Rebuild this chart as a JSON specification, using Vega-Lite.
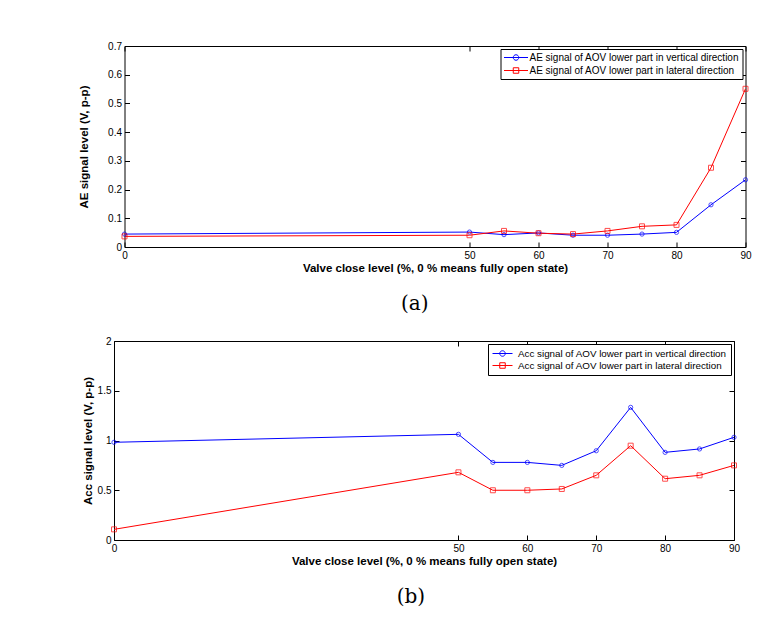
{
  "$schema": "https://vega.github.io/schema/vega-lite/v6.json",
  "padding": {"left": 78, "top": 40, "right": 0, "bottom": 0},
  "background": "white",
  "config": {
    "view": {"stroke": "black", "strokeWidth": 1},
    "font": "Liberation Sans",
    "axis": {
      "domain": false, "grid": false, "ticks": true, "tickColor": "black", "tickSize": -5, "tickWidth": 1,
      "labelPadding": 8, "labelFont": "Liberation Sans", "labelFontSize": 10, "labelColor": "black",
      "labelFlush": false, "labelOverlap": false,
      "titleFont": "Liberation Sans", "titleFontWeight": "bold", "titleFontSize": 11.5, "titleColor": "black"
    }
  },
  "datasets": {
    "ae": [
      {"level": 0, "series": "AE signal of AOV lower part in vertical direction", "value": 0.045},
      {"level": 50, "series": "AE signal of AOV lower part in vertical direction", "value": 0.052},
      {"level": 55, "series": "AE signal of AOV lower part in vertical direction", "value": 0.043},
      {"level": 60, "series": "AE signal of AOV lower part in vertical direction", "value": 0.049},
      {"level": 65, "series": "AE signal of AOV lower part in vertical direction", "value": 0.041},
      {"level": 70, "series": "AE signal of AOV lower part in vertical direction", "value": 0.041},
      {"level": 75, "series": "AE signal of AOV lower part in vertical direction", "value": 0.045},
      {"level": 80, "series": "AE signal of AOV lower part in vertical direction", "value": 0.051},
      {"level": 85, "series": "AE signal of AOV lower part in vertical direction", "value": 0.147},
      {"level": 90, "series": "AE signal of AOV lower part in vertical direction", "value": 0.234},
      {"level": 0, "series": "AE signal of AOV lower part in lateral direction", "value": 0.037},
      {"level": 50, "series": "AE signal of AOV lower part in lateral direction", "value": 0.041},
      {"level": 55, "series": "AE signal of AOV lower part in lateral direction", "value": 0.056},
      {"level": 60, "series": "AE signal of AOV lower part in lateral direction", "value": 0.048},
      {"level": 65, "series": "AE signal of AOV lower part in lateral direction", "value": 0.045},
      {"level": 70, "series": "AE signal of AOV lower part in lateral direction", "value": 0.056},
      {"level": 75, "series": "AE signal of AOV lower part in lateral direction", "value": 0.072},
      {"level": 80, "series": "AE signal of AOV lower part in lateral direction", "value": 0.077},
      {"level": 85, "series": "AE signal of AOV lower part in lateral direction", "value": 0.276},
      {"level": 90, "series": "AE signal of AOV lower part in lateral direction", "value": 0.551}
    ],
    "acc": [
      {"level": 0, "series": "Acc signal of AOV lower part in vertical direction", "value": 0.982},
      {"level": 50, "series": "Acc signal of AOV lower part in vertical direction", "value": 1.062},
      {"level": 55, "series": "Acc signal of AOV lower part in vertical direction", "value": 0.78},
      {"level": 60, "series": "Acc signal of AOV lower part in vertical direction", "value": 0.78},
      {"level": 65, "series": "Acc signal of AOV lower part in vertical direction", "value": 0.75},
      {"level": 70, "series": "Acc signal of AOV lower part in vertical direction", "value": 0.897},
      {"level": 75, "series": "Acc signal of AOV lower part in vertical direction", "value": 1.333},
      {"level": 80, "series": "Acc signal of AOV lower part in vertical direction", "value": 0.881},
      {"level": 85, "series": "Acc signal of AOV lower part in vertical direction", "value": 0.915},
      {"level": 90, "series": "Acc signal of AOV lower part in vertical direction", "value": 1.032},
      {"level": 0, "series": "Acc signal of AOV lower part in lateral direction", "value": 0.107},
      {"level": 50, "series": "Acc signal of AOV lower part in lateral direction", "value": 0.68},
      {"level": 55, "series": "Acc signal of AOV lower part in lateral direction", "value": 0.5},
      {"level": 60, "series": "Acc signal of AOV lower part in lateral direction", "value": 0.5},
      {"level": 65, "series": "Acc signal of AOV lower part in lateral direction", "value": 0.513},
      {"level": 70, "series": "Acc signal of AOV lower part in lateral direction", "value": 0.65},
      {"level": 75, "series": "Acc signal of AOV lower part in lateral direction", "value": 0.948},
      {"level": 80, "series": "Acc signal of AOV lower part in lateral direction", "value": 0.616},
      {"level": 85, "series": "Acc signal of AOV lower part in lateral direction", "value": 0.65},
      {"level": 90, "series": "Acc signal of AOV lower part in lateral direction", "value": 0.75}
    ]
  },
  "columns": 1,
  "spacing": 21,
  "resolve": {"scale": {"color": "independent"}, "legend": {"color": "independent"}},
  "concat": [
    {
      "resolve": {"scale": {"color": "independent"}, "legend": {"color": "independent"}},
      "spacing": -37.5,
      "hconcat": [
        {
          "width": 1,
          "height": 1,
          "view": {"stroke": null, "fill": "white"},
          "data": {"values": []},
          "mark": "point"
        },
        {
          "width": 621,
          "height": 201,
          "data": {"name": "ae"},
          "title": {"text": "(a)", "orient": "bottom", "anchor": "middle", "frame": "bounds", "font": "DejaVu Serif", "fontSize": 20, "fontWeight": "normal", "offset": 20, "color": "black"},
          "resolve": {"axis": {"x": "independent", "y": "independent"}},
          "layer": [
            {
              "mark": {"type": "line", "strokeWidth": 1},
              "encoding": {
                "x": {"field": "level", "type": "quantitative", "scale": {"domain": [0, 90], "nice": false, "zero": false},
                      "axis": {"orient": "bottom", "values": [0, 50, 60, 70, 80, 90], "title": "Valve close level (%, 0 % means fully open state)", "titlePadding": 2}},
                "y": {"field": "value", "type": "quantitative", "scale": {"domain": [0, 0.7], "nice": false},
                      "axis": {"orient": "left", "values": [0, 0.1, 0.2, 0.3, 0.4, 0.5, 0.6, 0.7], "labelExpr": "'' + datum.value", "title": "AE signal level (V, p-p)", "titlePadding": 18}},
                "color": {"field": "series", "type": "nominal",
                          "scale": {"domain": ["AE signal of AOV lower part in vertical direction", "AE signal of AOV lower part in lateral direction"], "range": ["#0000ff", "#ff0000"]},
                          "legend": {"orient": "top-right", "offset": 3, "title": null, "strokeColor": "black", "fillColor": "white", "padding": 3,
                                     "labelFont": "Liberation Sans", "labelFontSize": 10, "labelColor": "black", "labelLimit": 400,
                                     "symbolSize": 100, "symbolStrokeWidth": 1, "labelOffset": 15, "rowPadding": 2,
                                     "encode": {"symbols": {"update": {
                                       "shape": {"signal": "datum.value == 'AE signal of AOV lower part in vertical direction' ? 'M-1,0H3.8M0.85,0A0.55,0.55 0 1,0 1.95,0A0.55,0.55 0 1,0 0.85,0' : 'M-1,0H3.8M0.85,-0.55H1.95V0.55H0.85Z'"},
                                       "fill": {"value": "transparent"}}}}}}
              }
            },
            {
              "transform": [{"filter": "datum.series == 'AE signal of AOV lower part in vertical direction'"}],
              "mark": {"type": "point", "shape": "circle", "filled": false, "size": 18, "strokeWidth": 1, "color": "#0000ff"},
              "encoding": {
                "x": {"field": "level", "type": "quantitative", "axis": {"orient": "top", "values": [0, 50, 60, 70, 80, 90], "labels": false, "title": null}},
                "y": {"field": "value", "type": "quantitative", "axis": {"orient": "right", "values": [0, 0.1, 0.2, 0.3, 0.4, 0.5, 0.6, 0.7], "labels": false, "title": null}}
              }
            },
            {
              "transform": [{"filter": "datum.series == 'AE signal of AOV lower part in lateral direction'"}],
              "mark": {"type": "point", "shape": "square", "filled": false, "size": 25, "strokeWidth": 1, "color": "#ff0000"},
              "encoding": {
                "x": {"field": "level", "type": "quantitative", "axis": null},
                "y": {"field": "value", "type": "quantitative", "axis": null}
              }
            }
          ]
        }
      ]
    },
    {
      "width": 620,
      "height": 199,
      "data": {"name": "acc"},
      "title": {"text": "(b)", "orient": "bottom", "anchor": "middle", "frame": "bounds", "font": "DejaVu Serif", "fontSize": 20, "fontWeight": "normal", "offset": 20, "color": "black"},
      "resolve": {"axis": {"x": "independent", "y": "independent"}},
      "layer": [
        {
          "mark": {"type": "line", "strokeWidth": 1},
          "encoding": {
            "x": {"field": "level", "type": "quantitative", "scale": {"domain": [0, 90], "nice": false, "zero": false},
                  "axis": {"orient": "bottom", "values": [0, 50, 60, 70, 80, 90], "title": "Valve close level (%, 0 % means fully open state)", "titlePadding": 2}},
            "y": {"field": "value", "type": "quantitative", "scale": {"domain": [0, 2], "nice": false},
                  "axis": {"orient": "left", "values": [0, 0.5, 1, 1.5, 2], "labelExpr": "'' + datum.value", "title": "Acc signal level (V, p-p)", "titlePadding": 4}},
            "color": {"field": "series", "type": "nominal",
                      "scale": {"domain": ["Acc signal of AOV lower part in vertical direction", "Acc signal of AOV lower part in lateral direction"], "range": ["#0000ff", "#ff0000"]},
                      "legend": {"orient": "top-right", "offset": 3, "title": null, "strokeColor": "black", "fillColor": "white", "padding": 4,
                                 "labelFont": "Liberation Sans", "labelFontSize": 9.8, "labelColor": "black", "labelLimit": 400,
                                 "symbolSize": 100, "symbolStrokeWidth": 1, "labelOffset": 15, "rowPadding": 1,
                                 "encode": {"symbols": {"update": {
                                   "shape": {"signal": "datum.value == 'Acc signal of AOV lower part in vertical direction' ? 'M-1,0H3M0.45,0A0.55,0.55 0 1,0 1.55,0A0.55,0.55 0 1,0 0.45,0' : 'M-1,0H3M0.45,-0.55H1.55V0.55H0.45Z'"},
                                   "fill": {"value": "transparent"}}}}}}
          }
        },
        {
          "transform": [{"filter": "datum.series == 'Acc signal of AOV lower part in vertical direction'"}],
          "mark": {"type": "point", "shape": "circle", "filled": false, "size": 18, "strokeWidth": 1, "color": "#0000ff"},
          "encoding": {
            "x": {"field": "level", "type": "quantitative", "axis": {"orient": "top", "values": [0, 50, 60, 70, 80, 90], "labels": false, "title": null}},
            "y": {"field": "value", "type": "quantitative", "axis": {"orient": "right", "values": [0, 0.5, 1, 1.5, 2], "labels": false, "title": null}}
          }
        },
        {
          "transform": [{"filter": "datum.series == 'Acc signal of AOV lower part in lateral direction'"}],
          "mark": {"type": "point", "shape": "square", "filled": false, "size": 25, "strokeWidth": 1, "color": "#ff0000"},
          "encoding": {
            "x": {"field": "level", "type": "quantitative", "axis": null},
            "y": {"field": "value", "type": "quantitative", "axis": null}
          }
        }
      ]
    }
  ]
}
